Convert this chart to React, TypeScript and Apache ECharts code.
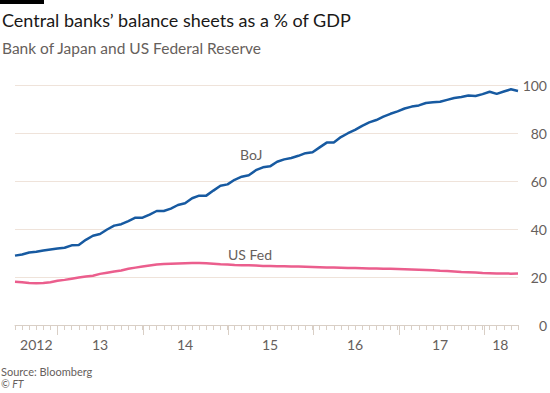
import React, { useEffect, useRef } from "react";
import * as echarts from "echarts";

// Monthly data, July 2012 .. June 2018
const startYear = 2012;
const startMonth = 7; // July
const bojValues = [
  28.9, 29.4, 30.2, 30.5, 31.0, 31.5, 31.9, 32.2, 33.2, 33.3, 35.5, 37.2,
  37.9, 39.8, 41.4, 42.0, 43.3, 44.7, 44.7, 46.0, 47.5, 47.5, 48.5, 50.0,
  50.7, 52.8, 53.9, 53.9, 56.0, 58.0, 58.6, 60.5, 61.8, 62.4, 64.5, 65.7,
  66.1, 68.0, 69.0, 69.6, 70.5, 71.6, 72.0, 74.0, 76.0, 76.0, 78.3, 79.9,
  81.3, 83.0, 84.4, 85.4, 86.8, 88.0, 89.0, 90.2, 91.0, 91.5, 92.5, 92.8,
  93.0, 93.8, 94.6, 95.0, 95.6, 95.4, 96.2, 97.2, 96.3, 97.3, 98.2, 97.5,
];
const fedValues = [
  18.0, 17.8, 17.5, 17.4, 17.5, 17.8, 18.4, 18.8, 19.3, 19.8, 20.2, 20.5,
  21.3, 21.8, 22.3, 22.7, 23.4, 23.9, 24.4, 24.8, 25.2, 25.4, 25.5, 25.6,
  25.7, 25.8, 25.8, 25.7, 25.5, 25.3, 25.2, 25.0, 24.9, 24.9, 24.8, 24.6,
  24.6, 24.5, 24.5, 24.4, 24.4, 24.3, 24.2, 24.1, 24.0, 24.0, 23.9, 23.8,
  23.7, 23.6, 23.5, 23.5, 23.4, 23.4, 23.3, 23.2, 23.1, 23.0, 22.9, 22.8,
  22.6, 22.5, 22.3, 22.1, 22.0, 21.9, 21.7, 21.6, 21.5, 21.5, 21.4, 21.5,
];
const yearLabels = ["2012", "13", "14", "15", "16", "17", "18"];
const yTicks = [0, 20, 40, 60, 80, 100];

export default function App() {
  const ref = useRef<HTMLDivElement>(null);
  useEffect(() => {
    if (!ref.current) return;
    const chart = echarts.init(ref.current, undefined, { renderer: "svg" });
    const n = bojValues.length;
    const last = n - 1;
    const monthIdx = Array.from({ length: n }, (_, i) => i);
    // indices of January months
    const janIdx = monthIdx.filter((i) => (startMonth - 1 + i) % 12 === 0);
    // label positions: centre of visible part of each year
    const labelPos: number[] = [];
    const labelMap: Record<string, string> = {};
    yearLabels.forEach((lab, k) => {
      const s = Math.max(0, k * 12 - (startMonth - 1));
      const e = Math.min(last, (k + 1) * 12 - (startMonth - 1));
      const p = (s + e) / 2;
      labelPos.push(p);
      labelMap[String(p)] = lab;
    });
    const labelColor = "#66605c";
    const font = "Lato, 'Open Sans', sans-serif";
    const gridBox = { left: 15, right: 30, top: 85, bottom: 68 };
    chart.setOption({
      animation: false,
      backgroundColor: "#ffffff",
      grid: [
        { ...gridBox },
        { ...gridBox },
      ],
      xAxis: [
        {
          type: "value",
          gridIndex: 0,
          min: 0,
          max: last,
          axisLine: { show: true, lineStyle: { color: "#d9cfc6", width: 1 } },
          axisTick: {
            show: true,
            customValues: monthIdx,
            length: 5,
            lineStyle: { color: "#d9cfc6" },
          },
          axisLabel: {
            show: true,
            customValues: labelPos,
            formatter: (v: number) => labelMap[String(v)] ?? "",
            color: labelColor,
            fontSize: 14,
            fontFamily: font,
            margin: 12,
          },
          splitLine: { show: false },
        },
        {
          type: "value",
          gridIndex: 1,
          min: 0,
          max: last,
          axisLine: { show: false },
          axisTick: {
            show: true,
            customValues: janIdx,
            length: 10,
            lineStyle: { color: "#d9cfc6" },
          },
          axisLabel: { show: false },
          splitLine: { show: false },
        },
      ],
      yAxis: [
        {
          type: "value",
          gridIndex: 0,
          position: "right",
          min: 0,
          max: 100,
          interval: 20,
          axisLine: { show: false },
          axisTick: { show: false },
          axisLabel: {
            color: labelColor,
            fontSize: 14,
            fontFamily: font,
            align: "right",
            margin: 29,
            formatter: (v: number) => (yTicks.includes(v) ? String(v) : ""),
          },
          splitLine: { show: true, lineStyle: { color: "#efe3da", width: 1 } },
        },
        {
          type: "value",
          gridIndex: 1,
          min: 0,
          max: 100,
          show: false,
        },
      ],
      series: [
        {
          name: "US Fed",
          type: "line",
          xAxisIndex: 0,
          yAxisIndex: 0,
          data: fedValues.map((v, i) => [i, v]),
          showSymbol: false,
          lineStyle: { color: "#eb5e8d", width: 2.5 },
          z: 3,
        },
        {
          name: "BoJ",
          type: "line",
          xAxisIndex: 0,
          yAxisIndex: 0,
          data: bojValues.map((v, i) => [i, v]),
          showSymbol: false,
          lineStyle: { color: "#175aa1", width: 2.5 },
          z: 4,
        },
      ],
      graphic: [
        { type: "rect", left: 0, top: 0, shape: { width: 44, height: 4 }, style: { fill: "#000" } },
        {
          type: "text",
          x: 2,
          y: 20,
          style: {
            text: "Central banks’ balance sheets as a % of GDP",
            fontSize: 18,
            fontFamily: font,
            fill: "#1a1817",
            verticalAlign: "middle",
          },
        },
        {
          type: "text",
          x: 2,
          y: 48,
          style: {
            text: "Bank of Japan and US Federal Reserve",
            fontSize: 15.5,
            fontFamily: font,
            fill: labelColor,
            verticalAlign: "middle",
          },
        },
        {
          type: "text",
          x: 240,
          y: 154,
          style: { text: "BoJ", fontSize: 14, fontFamily: font, fill: labelColor, verticalAlign: "middle" },
        },
        {
          type: "text",
          x: 228,
          y: 254,
          style: { text: "US Fed", fontSize: 14, fontFamily: font, fill: labelColor, verticalAlign: "middle" },
        },
        {
          type: "text",
          x: 1,
          y: 371,
          style: { text: "Source: Bloomberg", fontSize: 11, fontFamily: font, fill: labelColor, verticalAlign: "middle" },
        },
        {
          type: "text",
          x: 1,
          y: 384,
          style: {
            text: "© FT",
            fontSize: 10.5,
            fontStyle: "italic",
            fontFamily: font,
            fill: labelColor,
            verticalAlign: "middle",
          },
        },
      ],
    });
    return () => chart.dispose();
  }, []);
  return (
    <div
      ref={ref}
      style={{ position: "absolute", left: 0, top: 0, width: 550, height: 393 }}
    />
  );
}
